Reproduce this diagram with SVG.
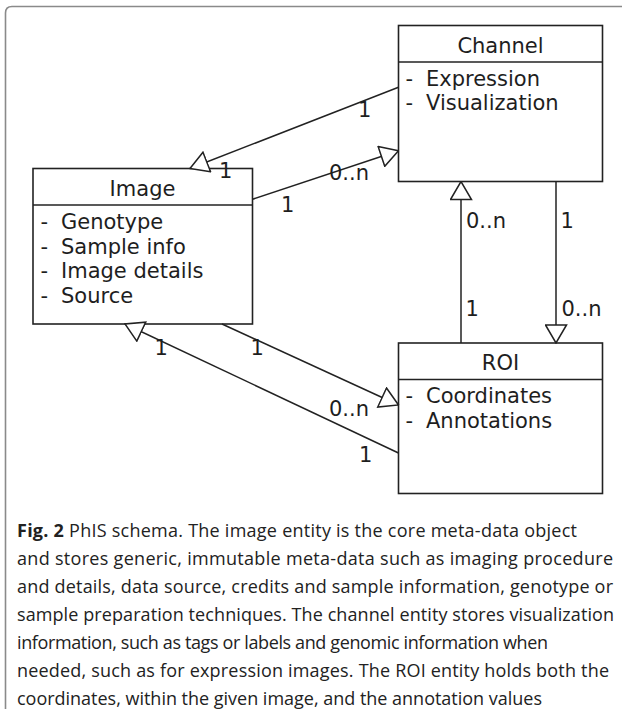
<svg xmlns="http://www.w3.org/2000/svg" width="622" height="709" viewBox="0 0 622 709">
<style>
.frame{fill:none;stroke:#8a8a8a;stroke-width:1.6}
.box{fill:#fff;stroke:#222;stroke-width:1.6}
.div{stroke:#222;stroke-width:1.6}
.t{font-family:"DejaVu Sans",sans-serif;font-size:21px;fill:#1e1e1e}
.c{text-anchor:middle}
.edge{fill:none;stroke:#222;stroke-width:1.5}
.lbl{font-family:"DejaVu Sans",sans-serif;font-size:21px;fill:#1e1e1e}
.cap{font-family:"Open Sans","Noto Sans",sans-serif;font-size:18px;fill:#222}
</style>
<defs>
<marker id="tri" viewBox="-1 -1 20 23" markerWidth="20" markerHeight="23" refX="18" refY="10.5" orient="auto" markerUnits="userSpaceOnUse">
<path d="M0,0 L18,10.5 L0,21 Z" fill="#fff" stroke="#222" stroke-width="1.5"/>
</marker>
</defs>
<rect width="622" height="709" fill="#fff"/>
<path class="frame" d="M5.5,709 V13 Q5.5,6.5 12,6.5 H622"/>

<g id="channel">
<rect class="box" x="398.5" y="25.5" width="204" height="156"/>
<line class="div" x1="398.5" y1="62" x2="602.5" y2="62"/>
<text class="t c" x="500.5" y="53">Channel</text>
<text class="t" x="405.5" y="86">-<tspan x="426">Expression</tspan></text>
<text class="t" x="405.5" y="110">-<tspan x="426">Visualization</tspan></text>
</g>

<g id="image">
<rect class="box" x="33" y="168.5" width="219.5" height="155.5"/>
<line class="div" x1="33" y1="205" x2="252.5" y2="205"/>
<text class="t c" x="142.5" y="196">Image</text>
<text class="t" x="40.5" y="229">-<tspan x="61">Genotype</tspan></text>
<text class="t" x="40.5" y="253.5">-<tspan x="61">Sample info</tspan></text>
<text class="t" x="40.5" y="278">-<tspan x="61">Image details</tspan></text>
<text class="t" x="40.5" y="302.5">-<tspan x="61">Source</tspan></text>
</g>

<g id="roi">
<rect class="box" x="398.5" y="343" width="204" height="150.5"/>
<line class="div" x1="398.5" y1="379.5" x2="602.5" y2="379.5"/>
<text class="t c" x="500.5" y="370">ROI</text>
<text class="t" x="405.5" y="403">-<tspan x="426">Coordinates</tspan></text>
<text class="t" x="405.5" y="427.5">-<tspan x="426">Annotations</tspan></text>
</g>

<g id="connectors">
<path class="edge" d="M398.5,87.3 L190,168.5" marker-end="url(#tri)"/>
<path class="edge" d="M252.5,199.3 L398.5,150.7" marker-end="url(#tri)"/>
<path class="edge" d="M461,343 L461,181.5" marker-end="url(#tri)"/>
<path class="edge" d="M556,181.5 L556,343" marker-end="url(#tri)"/>
<path class="edge" d="M222,324 L398.5,405" marker-end="url(#tri)"/>
<path class="edge" d="M398.5,453 L125,324" marker-end="url(#tri)"/>
<text class="lbl" x="358" y="117">1</text>
<text class="lbl" x="219" y="177.5">1</text>
<text class="lbl" x="329" y="179.5">0..n</text>
<text class="lbl" x="281" y="212">1</text>
<text class="lbl" x="466" y="228">0..n</text>
<text class="lbl" x="465.5" y="316">1</text>
<text class="lbl" x="560.5" y="228">1</text>
<text class="lbl" x="561.5" y="316">0..n</text>
<text class="lbl" x="250.5" y="355">1</text>
<text class="lbl" x="329" y="416">0..n</text>
<text class="lbl" x="154.5" y="355">1</text>
<text class="lbl" x="359" y="462">1</text>
</g>

<g id="caption">
<text class="cap" x="17" y="537" textLength="560" lengthAdjust="spacing"><tspan font-weight="bold">Fig. 2</tspan> PhIS schema. The image entity is the core meta-data object</text>
<text class="cap" x="17" y="565" textLength="596" lengthAdjust="spacing">and stores generic, immutable meta-data such as imaging procedure</text>
<text class="cap" x="17" y="593" textLength="596" lengthAdjust="spacing">and details, data source, credits and sample information, genotype or</text>
<text class="cap" x="17" y="621" textLength="597" lengthAdjust="spacing">sample preparation techniques. The channel entity stores visualization</text>
<text class="cap" x="17" y="649" textLength="531" lengthAdjust="spacing">information, such as tags or labels and genomic information when</text>
<text class="cap" x="17" y="677" textLength="592" lengthAdjust="spacing">needed, such as for expression images. The ROI entity holds both the</text>
<text class="cap" x="17" y="705" textLength="525" lengthAdjust="spacing">coordinates, within the given image, and the annotation values</text>
</g>
</svg>
